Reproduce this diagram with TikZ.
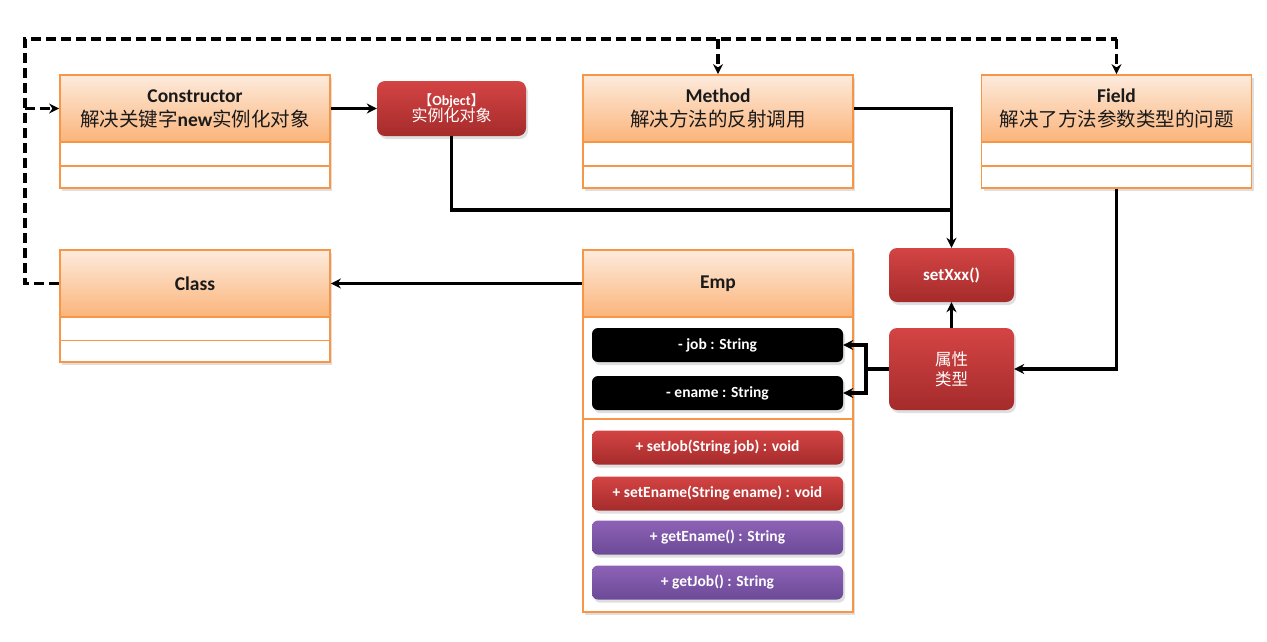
\documentclass[tikz,border=0pt]{standalone}
\usepackage{fontspec}
\setmainfont{Carlito}
\newfontfamily\cjk{Noto Sans CJK SC}
\usetikzlibrary{arrows.meta,shadows}
\definecolor{obrd}{HTML}{F79646}
\definecolor{otop}{HTML}{FDEBDD}
\definecolor{obot}{HTML}{FBB47A}
\definecolor{rtop}{HTML}{D44444}
\definecolor{rbot}{HTML}{A52B2B}
\definecolor{ptop}{HTML}{8E62B6}
\definecolor{pbot}{HTML}{6B4A97}
\definecolor{txt}{HTML}{1A1A1A}
\newcommand{\zh}[1]{{\cjk\mdseries #1}}
\tikzset{
  shd/.style={drop shadow={opacity=0.25,shadow xshift=2pt,shadow yshift=-3pt}},
  clsbox/.style={draw=obrd,line width=1.8pt,fill=white,minimum width=270pt,inner sep=0pt,shd},
  hdr/.style={draw=obrd,line width=1.8pt,top color=otop,bottom color=obot,minimum width=270pt,minimum height=67pt,
     align=center,inner sep=0pt,text=txt,font=\fontsize{19.5}{24}\selectfont\bfseries},
  rowln/.style={draw=obrd,line width=1.8pt},
  redbox/.style={rounded corners=8pt,top color=rtop,bottom color=rbot,draw=none,text=white,align=center,inner sep=0pt,shd},
  bar/.style={rounded corners=6pt,minimum width=251pt,minimum height=34pt,inner sep=0pt,text=white,
     font=\fontsize{15.5}{18}\selectfont\bfseries,shd},
  blackbar/.style={bar,fill=black},
  redbar/.style={bar,top color=rtop,bottom color=rbot},
  purbar/.style={bar,top color=ptop,bottom color=pbot},
  conn/.style={line width=3.4pt,black},
  arr/.style={-{Stealth[length=10pt,width=10pt]}},
  dsh/.style={line width=3.6pt,dash pattern=on 10pt off 5pt,black}
}
\begin{document}
\begin{tikzpicture}[x=1pt,y=-1pt]
\useasboundingbox[fill=white] (0,0) rectangle (1267,641);
% Constructor
\node[clsbox,minimum height=113pt] (con) at (195,131.5) {};
\node[hdr] (conh) at (195,108.5) {Constructor\\\zh{解决关键字}new\zh{实例化对象}};
\draw[rowln] (con.south west) ++(0,-23) -- ++(270,0);
% Method
\node[clsbox,minimum height=113pt] (met) at (718,131.5) {};
\node[hdr] (meth) at (718,108.5) {Method\\\zh{解决方法的反射调用}};
\draw[rowln] (met.south west) ++(0,-23) -- ++(270,0);
% Field
\node[clsbox,minimum height=113pt] (fld) at (1116.5,131.5) {};
\node[hdr] (fldh) at (1116.5,108.5) {Field\\\zh{解决了方法参数类型的问题}};
\draw[rowln] (fld.south west) ++(0,-23) -- ++(270,0);
% Class
\node[clsbox,minimum height=112pt] (cls) at (195,306) {};
\node[hdr] (clsh) at (195,283.5) {Class};
\draw[rowln] (cls.south west) ++(0,-22.5) -- ++(270,0);
% Emp
\node[clsbox,minimum height=362pt] (emp) at (718,431) {};
\node[hdr] (emph) at (718,283.5) {Emp};
\draw[rowln] (emp.north west) ++(0,170) -- ++(270,0);
% Object
\node[redbox,minimum width=149pt,minimum height=55pt] (obj) at (451.5,108.5)
  {\fontsize{14}{16}\selectfont\bfseries\zh{【}Object\zh{】}\\[-1pt]\fontsize{16}{18}\selectfont\zh{实例化对象}};
% setXxx and attribute type
\node[redbox,minimum width=125pt,minimum height=54pt,font=\fontsize{17}{19}\selectfont\bfseries] (set) at (951.5,275) {setXxx()};
\node[redbox,minimum width=125pt,minimum height=82pt,font=\fontsize{16.5}{20}\selectfont\cjk] (attr) at (951.5,369) {属性\\类型};
% Emp members
\node[blackbar] (job) at (717.5,345) {- job : String};
\node[blackbar] (ename) at (717.5,393) {- ename : String};
\node[redbar] (setjob) at (717.5,447.5) {+ setJob(String job) : void};
\node[redbar] (setename) at (717.5,493.5) {+ setEname(String ename) : void};
\node[purbar] (getename) at (717.5,537.5) {+ getEname() : String};
\node[purbar] (getjob) at (717.5,582.5) {+ getJob() : String};
% coordinates
\coordinate (tl) at (25,39);
\coordinate (tm) at (718,39);
\coordinate (tr) at (1116.5,39);
\coordinate (lm) at (25,108.5);
\coordinate (jn) at (951.5,210);
\coordinate (br) at (866,369);
% dashed
\draw[dsh] (clsh.west) -| (tl) -- (tr);
\draw[dsh,arr] (tr) -- (fldh.north);
\draw[dsh,arr] (tm) -- (meth.north);
\draw[dsh,arr] (lm) -- (conh.west);
% solid
\draw[conn,arr] (conh.east) -- (obj.west);
\draw[conn] (obj.south) |- (jn);
\draw[conn,arr] (meth.east) -| (set.north);
\draw[conn,arr] (fld.south) |- (attr.east);
\draw[conn,arr] (attr.north) -- (set.south);
\draw[conn] (attr.west) -- (br);
\draw[conn,arr] (br) |- (job.east);
\draw[conn,arr] (br) |- (ename.east);
\draw[conn,arr] (emph.west) -- (clsh.east);
\end{tikzpicture}
\end{document}
